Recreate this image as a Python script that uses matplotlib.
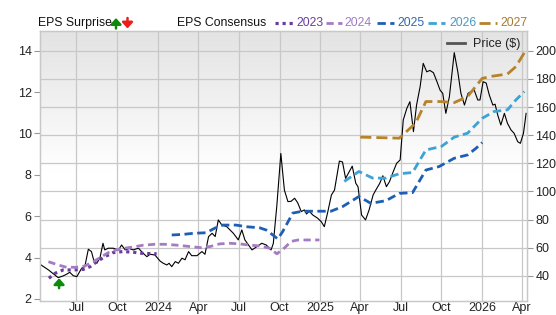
import matplotlib
matplotlib.use("Agg")
import matplotlib.pyplot as plt
from matplotlib.lines import Line2D
import numpy as np
import pandas as pd

plt.rcParams['font.family'] = ['Liberation Sans', 'DejaVu Sans']

# ---------------- data ----------------
price_dates = ["2023-04-10","2023-04-29","2023-05-21","2023-06-01","2023-06-09","2023-06-16","2023-06-24","2023-07-02",
    "2023-07-13","2023-07-20","2023-07-28","2023-08-04","2023-08-10","2023-08-16","2023-08-23","2023-08-30","2023-09-03",
    "2023-09-11","2023-09-22","2023-10-04","2023-10-11","2023-10-19","2023-10-28","2023-11-06","2023-11-18","2023-11-29",
    "2023-12-07","2023-12-14","2023-12-25","2024-01-06","2024-01-13","2024-01-21","2024-01-26","2024-02-01","2024-02-09",
    "2024-02-16","2024-02-24","2024-03-02","2024-03-10","2024-03-17","2024-03-29","2024-04-09","2024-04-16","2024-04-24",
    "2024-05-02","2024-05-09","2024-05-16","2024-05-24","2024-06-04","2024-06-19","2024-06-30","2024-07-08","2024-07-15",
    "2024-07-23","2024-07-31","2024-08-11","2024-08-22","2024-09-01","2024-09-12","2024-09-17","2024-09-25","2024-10-04",
    "2024-10-12","2024-10-20","2024-10-27","2024-11-04","2024-11-11","2024-11-19","2024-11-26","2024-12-01","2024-12-07",
    "2024-12-15","2024-12-26","2025-01-03","2025-01-10","2025-01-18","2025-01-26","2025-02-02","2025-02-07","2025-02-13",
    "2025-02-20","2025-02-27","2025-03-07","2025-03-14","2025-03-22","2025-03-27","2025-04-04","2025-04-13","2025-04-21",
    "2025-04-30","2025-05-07","2025-05-15","2025-05-22","2025-05-30","2025-06-06","2025-06-13","2025-06-22","2025-06-30",
    "2025-07-07","2025-07-15","2025-07-22","2025-07-30","2025-08-06","2025-08-14","2025-08-21","2025-08-29","2025-09-05",
    "2025-09-13","2025-09-21","2025-09-28","2025-10-04","2025-10-11","2025-10-19","2025-10-26","2025-10-30","2025-11-07",
    "2025-11-14","2025-11-22","2025-11-30","2025-12-07","2025-12-14","2025-12-22","2025-12-27","2026-01-03","2026-01-10",
    "2026-01-17","2026-01-25","2026-01-30","2026-02-05","2026-02-12","2026-02-20","2026-02-27","2026-03-07","2026-03-14",
    "2026-03-22","2026-03-28","2026-04-04","2026-04-10"]
price_vals = [48.3,44.3,38.8,40.0,41.2,42.6,40.2,39.5,
    45.5,46.6,59.0,57.3,50.2,49.0,52.6,63.2,58.5,
    59.7,59.7,58.5,62.0,58.5,59.5,58.5,59.7,56.0,
    53.7,55.4,54.9,50.5,49.0,47.8,49.0,46.6,50.2,
    49.0,52.6,51.5,57.3,54.4,54.4,57.3,55.4,67.9,
    70.3,68.0,79.8,76.2,75.0,70.3,65.6,72.7,65.6,
    62.0,58.5,60.8,63.2,62.0,58.5,63.0,90.0,127.0,
    101.0,92.8,93.0,95.2,92.0,85.7,86.9,84.0,86.0,
    83.3,81.0,78.6,75.0,85.7,97.5,101.0,110.5,121.6,
    121.0,109.3,114.0,118.0,105.8,103.4,83.3,79.8,86.9,
    97.5,101.5,105.8,111.2,103.4,107.0,112.9,120.0,122.4,
    150.8,159.0,163.8,142.5,161.4,174.4,191.0,185.0,186.0,
    184.4,178.0,172.0,169.7,155.5,167.3,187.5,198.6,185.0,
    169.7,161.4,169.7,171.0,172.0,165.0,165.0,178.0,177.0,
    168.5,161.4,162.0,154.3,147.2,155.5,148.4,143.7,141.3,
    135.4,134.2,141.3,155.5]

eps2023_dates = ["2023-04-30","2023-05-14","2023-06-01","2023-06-24","2023-07-17","2023-08-01","2023-08-16",
                 "2023-09-03","2023-09-22","2023-10-14","2023-11-06","2023-11-29","2023-12-29"]
eps2023_vals = [3.0,3.24,3.40,3.40,3.43,3.56,3.80,4.04,4.24,4.29,4.26,4.20,4.18]

eps2024_dates = ["2023-04-29","2023-05-21","2023-06-09","2023-07-02","2023-07-20","2023-08-08","2023-08-27",
                 "2023-09-15","2023-10-08","2023-11-06","2023-11-29","2023-12-25","2024-01-17","2024-02-12",
                 "2024-03-14","2024-04-05","2024-04-27","2024-05-19","2024-06-11","2024-07-03","2024-07-26",
                 "2024-08-17","2024-09-09","2024-09-25","2024-10-12","2024-10-27","2024-11-12","2024-12-30"]
eps2024_vals = [3.80,3.64,3.53,3.53,3.59,3.80,4.04,4.29,4.42,4.51,4.60,4.64,4.64,4.60,
                4.53,4.48,4.53,4.66,4.69,4.66,4.60,4.56,4.45,4.18,4.46,4.78,4.85,4.85]

eps2025_dates = ["2024-02-01","2024-02-27","2024-03-20","2024-04-19","2024-05-08","2024-05-26","2024-06-25",
                 "2024-07-18","2024-08-17","2024-09-01","2024-09-16","2024-09-27","2024-10-08","2024-10-31",
                 "2024-11-22","2024-12-22","2025-01-25","2025-02-20","2025-03-29","2025-04-25","2025-05-29",
                 "2025-06-28","2025-07-28","2025-08-27","2025-09-26","2025-10-30","2025-11-29","2025-12-18",
                 "2026-01-01"]
eps2025_vals = [5.09,5.12,5.17,5.20,5.42,5.57,5.57,5.49,5.44,5.33,5.09,4.90,5.25,6.15,
                6.24,6.24,6.24,6.46,6.95,6.62,6.75,7.10,7.14,8.23,8.40,8.80,8.96,9.28,9.56]

eps2026_dates = ["2025-02-24","2025-03-29","2025-04-29","2025-05-29","2025-06-28","2025-07-28","2025-08-27",
                 "2025-10-01","2025-10-30","2025-11-29","2026-01-01","2026-01-28","2026-02-27","2026-03-18",
                 "2026-04-06"]
eps2026_vals = [7.68,8.16,7.84,7.84,8.05,8.11,9.20,9.37,9.82,10.01,10.73,11.06,11.14,11.62,12.02]

eps2027_dates = ["2025-04-01","2025-06-28","2025-08-04","2025-08-27","2025-10-01","2025-10-30","2025-11-29",
                 "2026-01-01","2026-01-25","2026-02-27","2026-03-18","2026-04-06"]
eps2027_vals = [9.82,9.77,10.50,11.54,11.54,11.49,11.78,12.66,12.77,12.87,13.23,13.90]

surprise_dates = ["2023-05-23"]
surprise_low = [2.52]
surprise_high = [3.0]

xtick_dates = ["2023-07-01","2023-10-01","2024-01-01","2024-04-01","2024-07-01","2024-10-01",
               "2025-01-01","2025-04-01","2025-07-01","2025-10-01","2026-01-01","2026-04-01"]
xtick_labels = ["Jul","Oct","2024","Apr","Jul","Oct","2025","Apr","Jul","Oct","2026","Apr"]
eps_ticks = [2, 4, 6, 8, 10, 12, 14]
price_ticks = [40, 60, 80, 100, 120, 140, 160, 180, 200]

years = ["2023", "2024", "2025", "2026", "2027"]
line_colors = ["#6a3d9a", "#a57cc4", "#1f5fb3", "#3ba3d6", "#b8822a"]
text_colors = ["#6a3d9a", "#a07cc0", "#3566ab", "#4a98c4", "#a67a33"]
line_styles = [(0, (1, 1.2)), (0, (2.6, 1.6)), (0, (3, 1.6)), (0, (3, 1.6)), (0, (4, 1.8))]

# ---------------- figure ----------------
W, H = 556, 315
fig = plt.figure(figsize=(W / 100, H / 100), dpi=100)
rect = [40 / W, 14 / H, 487 / W, 270 / H]
ax = fig.add_axes(rect)  # price axis (right ticks), also grid
ax_eps = ax.twinx()      # EPS axis (left ticks)

pd_dates = lambda L: pd.to_datetime(L)

# background gradient
grad = np.linspace(0, 1, 256)
top_c = np.array([0.89, 0.89, 0.89])
bot_c = np.array([1.0, 1.0, 1.0])
frac = np.clip((grad - 0.48) / 0.52, 0, 1)
img = bot_c[None, :] + (top_c - bot_c)[None, :] * frac[:, None]
img = np.broadcast_to(img.reshape(256, 1, 3), (256, 2, 3))
ax.imshow(img, extent=[0, 1, 0, 1], transform=ax.transAxes, aspect='auto',
          origin='lower', zorder=0, interpolation='bilinear')

# price line
ax.plot(pd_dates(price_dates), price_vals, color='black', lw=0.8, zorder=3, label='Price ($)')

# EPS lines
series = [(eps2023_dates, eps2023_vals), (eps2024_dates, eps2024_vals), (eps2025_dates, eps2025_vals),
          (eps2026_dates, eps2026_vals), (eps2027_dates, eps2027_vals)]
for (d, v), c, ls in zip(series, line_colors, line_styles):
    ax_eps.plot(pd_dates(d), v, color=c, lw=2.0 if ls[1][0] > 1 else 2.3, linestyle=ls,
                dash_capstyle='butt')

arrow_style = '-|>,head_width=0.45,head_length=0.5'

# surprise arrows
for d, lo, hi in zip(pd_dates(surprise_dates), surprise_low, surprise_high):
    ax_eps.annotate('', xy=(d, hi), xytext=(d, lo),
                    arrowprops=dict(arrowstyle=arrow_style, mutation_scale=7,
                                    color='#0c8a0c', lw=1.8, shrinkA=0, shrinkB=0),
                    annotation_clip=False)

# limits
xmin, xmax = pd.Timestamp("2023-04-10"), pd.Timestamp("2026-04-12")
ax.set_xlim(xmin, xmax)
ax.set_ylim(22.2, 214)
ax_eps.set_ylim(1.9, 14.95)
ax_eps.set_xlim(xmin, xmax)

# ticks
ax.set_xticks(pd_dates(xtick_dates))
ax.set_xticklabels(xtick_labels)
ax.yaxis.tick_right()
ax.set_yticks(price_ticks)
ax_eps.yaxis.tick_left()
ax_eps.set_yticks(eps_ticks)

grid_c = '#c8c8c8'
ax.grid(True, color=grid_c, lw=0.9, zorder=1)
for a in (ax, ax_eps):
    for s in a.spines.values():
        s.set_color(grid_c)
        s.set_linewidth(0.9)
    a.tick_params(colors='#999999', labelcolor='#222222', labelsize=9, length=4, width=0.8)
ax.tick_params(axis='x', pad=0.5, length=0)
ax.tick_params(axis='y', pad=2)
ax_eps.tick_params(axis='y', pad=2)
ax.patch.set_visible(False)
ax_eps.patch.set_visible(False)

# price legend inside
ax.legend(loc='upper right', frameon=False, fontsize=9, handlelength=1.5, handletextpad=0.6,
          borderaxespad=0.15, labelcolor='#222222')
leg = ax.get_legend()
for h in leg.get_lines():
    h.set_color('#555555')
    h.set_linewidth(2.0)

# top legend
ty = (H - 23) / H
fs = 8.8
fig.text(38 / W, ty, "EPS Surprise", fontsize=fs, color='#111111', va='center', ha='left')
fig.text(177 / W, ty, "EPS Consensus", fontsize=fs, color='#111111', va='center', ha='left')
ann_kw = dict(xycoords='figure pixels', textcoords='figure pixels')
ax.annotate('', xy=(116, H - 18), xytext=(116, H - 28.5),
            arrowprops=dict(arrowstyle=arrow_style, mutation_scale=7, color='#0c8a0c',
                            lw=1.8, shrinkA=0, shrinkB=0), annotation_clip=False, **ann_kw)
ax.annotate('', xy=(127.5, H - 28.5), xytext=(127.5, H - 18),
            arrowprops=dict(arrowstyle=arrow_style, mutation_scale=7, color='#e8201c',
                            lw=1.8, shrinkA=0, shrinkB=0), annotation_clip=False, **ann_kw)

sample_x = [(275, 293), (326, 342), (377, 394), (428, 445), (479, 497)]
text_x = [296, 344, 397, 449, 500]
for (x0, x1), tx, yr, lc, tc, ls in zip(sample_x, text_x, years, line_colors, text_colors, line_styles):
    fig.add_artist(Line2D([x0 / W, x1 / W], [ty, ty], transform=fig.transFigure, color=lc,
                          lw=2.0 if ls[1][0] > 1 else 2.3, linestyle=ls, dash_capstyle='butt'))
    fig.text(tx / W, ty, yr, fontsize=fs, color=tc, va='center', ha='left')

fig.savefig("out.png", dpi=100)
